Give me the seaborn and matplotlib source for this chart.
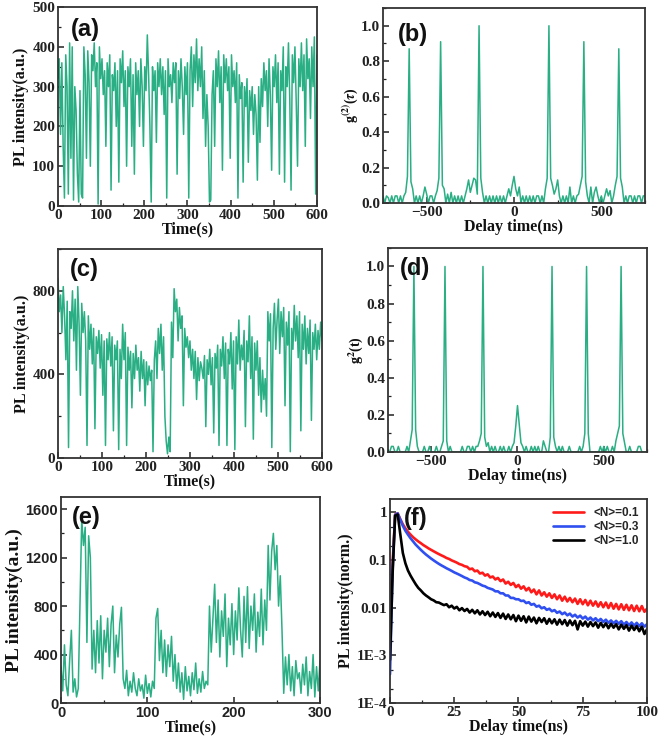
import numpy as np
import pandas as pd
import matplotlib
matplotlib.use("Agg")
import matplotlib.pyplot as plt
import seaborn as sns
from matplotlib.ticker import AutoMinorLocator, MultipleLocator, FixedLocator, FixedFormatter, NullFormatter, LogLocator

sns.set_theme(style="ticks")
plt.rcParams["font.family"] = ["Liberation Serif", "DejaVu Serif"]
plt.rcParams["font.weight"] = "bold"
plt.rcParams["axes.labelweight"] = "bold"
plt.rcParams["mathtext.fontset"] = "stix"

GREEN = "#2aae84"

# (a) PL trace, 3 s bins, 0..600 s
time_a = np.arange(0, 601, 3)
pl_a = [
    320, 370, 180, 360, 150, 20, 380, 300, 30, 410,
    120, 400, 15, 300, 240, 80, 10, 290, 30, 20,
    400, 330, 120, 390, 310, 100, 380, 340, 410, 300,
    360, 5, 400, 320, 370, 280, 340, 150, 360, 300,
    380, 40, 330, 290, 360, 200, 340, 60, 370, 310,
    390, 250, 340, 100, 350, 300, 370, 150, 330, 80,
    360, 280, 340, 200, 370, 300, 150, 350, 290, 430,
    330, 200, 10, 350, 290, 340, 160, 360, 300, 370,
    280, 350, 230, 340, 20, 370, 300, 330, 260, 360,
    310, 360, 80, 340, 270, 370, 300, 180, 350, 280,
    360, 20, 340, 400, 250, 380, 310, 420, 290, 370,
    300, 400, 220, 340, 150, 280, 200, 10, 15, 280,
    340, 150, 370, 300, 390, 260, 350, 90, 380, 310,
    370, 290, 350, 120, 380, 300, 340, 260, 360, 20,
    330, 270, 310, 60, 300, 250, 320, 110, 290, 240,
    300, 180, 280, 230, 65, 300, 160, 320, 250, 360,
    290, 340, 200, 370, 280, 90, 350, 300, 380, 260,
    360, 80, 340, 290, 400, 60, 350, 300, 410, 270,
    40, 380, 310, 400, 260, 100, 370, 300, 410, 290,
    380, 150, 420, 320, 370, 220, 400, 300, 425, 30,
    380,
]

# (c) PL trace, 3 s bins, 0..600 s
time_c = np.arange(0, 601, 3)
pl_c = [
    860, 700, 780, 600, 820, 680, 470, 750, 50, 700,
    620, 800, 560, 760, 420, 820, 640, 300, 740, 600,
    700, 560, 60, 680, 520, 640, 450, 620, 140, 580,
    500, 610, 430, 590, 300, 560, 60, 570, 470, 600,
    440, 580, 130, 540, 470, 560, 40, 520, 380, 640,
    470, 600, 60, 530, 420, 510, 240, 500, 380, 540,
    420, 480, 320, 510, 380, 470, 250, 460, 350, 440,
    370, 420, 30, 470, 560, 380, 620, 500, 640, 420,
    580, 200, 80, 20, 100, 30, 650, 480, 810, 700,
    760, 560, 720, 620, 680, 250, 620, 530, 580, 480,
    560, 420, 520, 380, 510, 280, 480, 370, 460, 430,
    380, 490, 150, 470, 400, 520, 350, 480, 120, 500,
    430, 540, 60, 520, 440, 580, 380, 550, 60, 520,
    450, 600, 330, 560, 40, 580, 450, 660, 420, 540,
    470, 610, 150, 560, 460, 680, 380, 580, 90, 550,
    420, 560, 300, 480, 220, 420, 280, 380, 200, 700,
    560, 690, 50, 620, 740, 520, 660, 760, 500, 700,
    580, 720, 250, 650, 540, 700, 30, 620, 520, 730,
    560, 680, 480, 700, 130, 640, 520, 680, 450, 620,
    500, 660, 180, 600, 520, 640, 470, 610, 520, 650,
    560,
]

# (e) PL trace, 2 s bins, 0..300 s
time_e = np.arange(0, 301, 2)
pl_e = [
    300, 100, 480, 150, 60, 350, 600, 90, 200, 50,
    120, 820, 1520, 1300, 1450, 500, 1380, 1200, 280, 600,
    250, 680, 330, 720, 200, 600, 420, 700, 300, 650,
    800, 250, 560, 380, 650, 790, 200, 120, 270, 60,
    180, 90, 250, 120, 60, 200, 100, 150, 40, 230,
    80, 160, 50, 180, 120, 700, 780, 350, 600, 250,
    520, 220, 480, 300, 550, 180, 400, 120, 330, 90,
    250, 30, 300, 100, 220, 60, 250, 110, 330, 80,
    200, 90, 260, 120, 180, 150, 800, 420, 700, 980,
    500, 850, 380, 760, 550, 900, 300, 700, 480, 820,
    400, 760, 520, 950, 600, 380, 880, 500, 960, 450,
    800, 600, 900, 420, 750, 550, 940, 480, 850, 600,
    1300, 850, 1250, 1400, 1100, 1300, 800, 1050, 600, 80,
    380, 150, 400, 100, 300, 60, 350, 200, 250, 80,
    320, 150, 380, 60, 260, 120, 400, 50, 300, 100,
    350,
]

# (b), (d) g2 histograms, 10 ns bins, -750..750 ns
delay_g2 = np.arange(-750, 751, 10)
g2_b = [
    0.04, 0.0, 0.04, 0.03, 0.0, 0.04, 0.0, 0.04, 0.04, 0.0,
    0.04, 0.0, 0.04, 0.06, 0.15, 0.87, 0.12, 0.08, 0.0, 0.04,
    0.0, 0.04, 0.0, 0.04, 0.09, 0.05, 0.0, 0.04, 0.04, 0.0,
    0.04, 0.07, 0.14, 0.91, 0.1, 0.08, 0.0, 0.05, 0.0, 0.06,
    0.0, 0.04, 0.0, 0.04, 0.0, 0.04, 0.0, 0.04, 0.08, 0.13,
    0.06, 0.1, 0.14, 0.13, 0.05, 1.0, 0.14, 0.06, 0.0, 0.04,
    0.0, 0.04, 0.0, 0.04, 0.0, 0.04, 0.0, 0.04, 0.0, 0.04,
    0.0, 0.04, 0.08, 0.04, 0.1, 0.15, 0.08, 0.04, 0.09, 0.0,
    0.04, 0.0, 0.04, 0.0, 0.04, 0.0, 0.04, 0.0, 0.04, 0.04,
    0.0, 0.04, 0.0, 0.08, 0.14, 1.0, 0.14, 0.1, 0.05, 0.08,
    0.13, 0.04, 0.0, 0.04, 0.0, 0.04, 0.0, 0.09, 0.0, 0.04,
    0.0, 0.04, 0.05, 0.1, 0.15, 0.91, 0.12, 0.04, 0.0, 0.09,
    0.0, 0.06, 0.09, 0.04, 0.0, 0.04, 0.0, 0.04, 0.08, 0.04,
    0.07, 0.0, 0.04, 0.1, 0.15, 0.87, 0.14, 0.09, 0.0, 0.04,
    0.0, 0.04, 0.04, 0.0, 0.04, 0.0, 0.04, 0.04, 0.0, 0.04,
    0.04,
]
g2_d = [
    0.0, 0.0, 0.03, 0.03, 0.0, 0.0, 0.03, 0.0, 0.0, 0.0,
    0.0, 0.03, 0.0, 0.06, 0.12, 1.0, 0.12, 0.03, 0.0, 0.0,
    0.0, 0.03, 0.0, 0.0, 0.03, 0.0, 0.0, 0.0, 0.03, 0.0,
    0.0, 0.03, 0.06, 1.0, 0.06, 0.0, 0.03, 0.0, 0.0, 0.0,
    0.0, 0.0, 0.0, 0.03, 0.0, 0.0, 0.03, 0.03, 0.0, 0.03,
    0.0, 0.03, 0.03, 0.06, 0.1, 1.0, 0.08, 0.03, 0.05, 0.0,
    0.03, 0.0, 0.03, 0.0, 0.0, 0.03, 0.0, 0.03, 0.0, 0.0,
    0.03, 0.0, 0.03, 0.05, 0.14, 0.25, 0.15, 0.05, 0.03, 0.0,
    0.03, 0.0, 0.0, 0.03, 0.0, 0.03, 0.0, 0.03, 0.0, 0.0,
    0.06, 0.03, 0.0, 0.0, 0.08, 1.0, 0.08, 0.03, 0.0, 0.03,
    0.0, 0.03, 0.0, 0.0, 0.0, 0.03, 0.0, 0.0, 0.0, 0.0,
    0.0, 0.03, 0.0, 0.03, 0.1, 1.0, 0.1, 0.0, 0.0, 0.0,
    0.0, 0.0, 0.0, 0.03, 0.0, 0.03, 0.0, 0.03, 0.0, 0.0,
    0.03, 0.0, 0.06, 0.1, 0.14, 1.0, 0.1, 0.05, 0.0, 0.0,
    0.03, 0.0, 0.0, 0.0, 0.0, 0.03, 0.03, 0.0, 0.0, 0.0,
    0.0,
]

# (f) normalized decay curves, 1 ns bins, 0..100 ns
delay_f = np.arange(0, 101, 1)
decay_01 = [
    0.004, 0.08, 0.9, 0.95, 0.72, 0.56, 0.46, 0.39, 0.34, 0.3,
    0.27, 0.245, 0.225, 0.205, 0.19, 0.175, 0.163, 0.152, 0.142, 0.133,
    0.125, 0.118, 0.11, 0.105, 0.098, 0.093, 0.088, 0.082, 0.079, 0.074,
    0.072, 0.064, 0.066, 0.058, 0.06, 0.052, 0.054, 0.047, 0.05, 0.043,
    0.045, 0.039, 0.042, 0.036, 0.039, 0.032, 0.035, 0.03, 0.033, 0.027,
    0.03, 0.025, 0.028, 0.023, 0.026, 0.021, 0.024, 0.019, 0.023, 0.018,
    0.021, 0.017, 0.02, 0.016, 0.019, 0.015, 0.018, 0.014, 0.017, 0.0135,
    0.016, 0.013, 0.0155, 0.012, 0.015, 0.0118, 0.0145, 0.0112, 0.014, 0.011,
    0.0135, 0.0105, 0.013, 0.0102, 0.0128, 0.0098, 0.0125, 0.0095, 0.012, 0.0092,
    0.0118, 0.009, 0.0115, 0.0088, 0.0112, 0.0085, 0.011, 0.0084, 0.0108, 0.0082,
    0.0095,
]
decay_03 = [
    0.0004, 0.06, 0.88, 0.95, 0.7, 0.52, 0.41, 0.34, 0.285, 0.245,
    0.21, 0.185, 0.163, 0.145, 0.13, 0.118, 0.107, 0.098, 0.09, 0.083,
    0.077, 0.072, 0.067, 0.063, 0.059, 0.055, 0.052, 0.049, 0.046, 0.043,
    0.041, 0.038, 0.037, 0.034, 0.033, 0.031, 0.029, 0.028, 0.026, 0.025,
    0.024, 0.022, 0.022, 0.02, 0.02, 0.018, 0.018, 0.016, 0.016, 0.015,
    0.015, 0.0138, 0.014, 0.0125, 0.013, 0.0115, 0.012, 0.0105, 0.011, 0.0097,
    0.0102, 0.009, 0.0095, 0.0084, 0.0089, 0.0078, 0.0083, 0.0073, 0.0079, 0.0069,
    0.0075, 0.0065, 0.0071, 0.0062, 0.0068, 0.0059, 0.0065, 0.0056, 0.0062, 0.0054,
    0.006, 0.0052, 0.0058, 0.005, 0.0056, 0.0048, 0.0054, 0.0047, 0.0053, 0.0046,
    0.0052, 0.0044, 0.005, 0.0043, 0.0049, 0.0042, 0.0048, 0.0041, 0.0047, 0.004,
    0.0045,
]
decay_10 = [
    0.0008, 0.05, 0.85, 0.9, 0.35, 0.14, 0.085, 0.06, 0.047, 0.038,
    0.031, 0.026, 0.023, 0.02, 0.018, 0.0165, 0.015, 0.0142, 0.013, 0.0128,
    0.012, 0.0113, 0.0118, 0.0102, 0.011, 0.0096, 0.0104, 0.0088, 0.0098, 0.0085,
    0.0094, 0.0079, 0.009, 0.0076, 0.0088, 0.0072, 0.0084, 0.007, 0.0082, 0.0066,
    0.0079, 0.0064, 0.0077, 0.0061, 0.0075, 0.0058, 0.0072, 0.0057, 0.007, 0.0052,
    0.0068, 0.0053, 0.0066, 0.0049, 0.0065, 0.0051, 0.0062, 0.0047, 0.0061, 0.005,
    0.006, 0.0046, 0.0058, 0.0047, 0.0057, 0.0044, 0.0056, 0.0045, 0.0055, 0.0042,
    0.0054, 0.0043, 0.0053, 0.0035, 0.0052, 0.0042, 0.0051, 0.004, 0.005, 0.0041,
    0.0049, 0.0038, 0.0048, 0.0039, 0.0047, 0.0037, 0.0046, 0.0038, 0.0045, 0.0035,
    0.0044, 0.0036, 0.0043, 0.0033, 0.0042, 0.0034, 0.0041, 0.0032, 0.004, 0.0028,
    0.0035,
]
decay_labels = ["<N>=0.1", "<N>=0.3", "<N>=1.0"]
decay_colors = ["#ff1a1a", "#2f4ff0", "#000000"]

fig = plt.figure(figsize=(6.61, 7.43), dpi=100)
ax_a = fig.add_axes([0.0877, 0.7227, 0.3918, 0.2678])
ax_b = fig.add_axes([0.5794, 0.7268, 0.3964, 0.2624])
ax_c = fig.add_axes([0.0877, 0.3836, 0.3994, 0.2813])
ax_d = fig.add_axes([0.5870, 0.3917, 0.3918, 0.2746])
ax_e = fig.add_axes([0.0923, 0.0538, 0.3918, 0.2773])
ax_f = fig.add_axes([0.5900, 0.0538, 0.3888, 0.2746])


def style_axis(ax, tick_font="Liberation Serif", tick_size=11):
    for sp in ax.spines.values():
        sp.set_color("#333333")
        sp.set_linewidth(1.3)
    ax.tick_params(which="both", direction="in", top=False, right=False,
                   colors="#222222", labelsize=tick_size, pad=2)
    ax.tick_params(which="major", length=4, width=1.1)
    ax.tick_params(which="minor", length=2.5, width=0.9)
    for lab in ax.get_xticklabels() + ax.get_yticklabels():
        lab.set_family(tick_font)
        lab.set_weight("bold")
    ax.xaxis.label.set_color("#111111")
    ax.yaxis.label.set_color("#111111")


def panel_label(ax, text, x, y):
    ax.text(x, y, text, transform=ax.transAxes, ha="left", va="top",
            fontsize=17, fontweight="bold", family="Liberation Sans", color="#111111")


# (a)
sns.lineplot(x=time_a, y=pl_a, ax=ax_a, color=GREEN, linewidth=1.1, estimator=None, sort=False)
ax_a.set_xlim(0, 600)
ax_a.set_ylim(0, 500)
ax_a.xaxis.set_major_locator(MultipleLocator(100))
ax_a.xaxis.set_minor_locator(AutoMinorLocator(2))
ax_a.yaxis.set_major_locator(MultipleLocator(100))
ax_a.yaxis.set_minor_locator(AutoMinorLocator(2))
ax_a.set_xlabel("Time(s)", fontsize=11.5, labelpad=0)
ax_a.set_ylabel("PL intensity(a.u.)", fontsize=11.5, labelpad=2)
style_axis(ax_a)
panel_label(ax_a, "(a)", 0.05, 0.945)

# (b)
sns.lineplot(x=delay_g2, y=g2_b, ax=ax_b, color=GREEN, linewidth=1.1, estimator=None, sort=False)
ax_b.set_xlim(-750, 750)
ax_b.set_ylim(0, 1.1)
ax_b.xaxis.set_major_locator(MultipleLocator(500))
ax_b.xaxis.set_minor_locator(AutoMinorLocator(2))
ax_b.yaxis.set_major_locator(MultipleLocator(0.2))
ax_b.yaxis.set_minor_locator(AutoMinorLocator(2))
ax_b.yaxis.set_major_formatter(matplotlib.ticker.FormatStrFormatter("%.1f"))
ax_b.set_xlabel("Delay time(ns)", fontsize=11.5, labelpad=0)
ax_b.set_ylabel(r"g$^{(2)}$($\tau$)", fontsize=10, labelpad=1)
style_axis(ax_b)
panel_label(ax_b, "(b)", 0.055, 0.925)

# (c)
sns.lineplot(x=time_c, y=pl_c, ax=ax_c, color=GREEN, linewidth=1.1, estimator=None, sort=False)
ax_c.set_xlim(0, 600)
ax_c.set_ylim(0, 1000)
ax_c.xaxis.set_major_locator(MultipleLocator(100))
ax_c.xaxis.set_minor_locator(AutoMinorLocator(2))
ax_c.yaxis.set_major_locator(MultipleLocator(400))
ax_c.yaxis.set_minor_locator(AutoMinorLocator(2))
ax_c.set_xlabel("Time(s)", fontsize=11.5, labelpad=0)
ax_c.set_ylabel("PL intensity(a.u.)", fontsize=11.5, labelpad=2)
style_axis(ax_c)
panel_label(ax_c, "(c)", 0.045, 0.955)

# (d)
sns.lineplot(x=delay_g2, y=g2_d, ax=ax_d, color=GREEN, linewidth=1.1, estimator=None, sort=False)
ax_d.set_xlim(-750, 750)
ax_d.set_ylim(0, 1.1)
ax_d.xaxis.set_major_locator(MultipleLocator(500))
ax_d.xaxis.set_minor_locator(AutoMinorLocator(2))
ax_d.yaxis.set_major_locator(MultipleLocator(0.2))
ax_d.yaxis.set_minor_locator(AutoMinorLocator(2))
ax_d.yaxis.set_major_formatter(matplotlib.ticker.FormatStrFormatter("%.1f"))
ax_d.set_xlabel("Delay time(ns)", fontsize=11.5, labelpad=0)
ax_d.set_ylabel(r"g$^{2}$(t)", fontsize=10, labelpad=1)
style_axis(ax_d)
panel_label(ax_d, "(d)", 0.045, 0.955)

# (e)
sns.lineplot(x=time_e, y=pl_e, ax=ax_e, color=GREEN, linewidth=1.1, estimator=None, sort=False)
ax_e.set_xlim(0, 300)
ax_e.set_ylim(0, 1700)
ax_e.xaxis.set_major_locator(MultipleLocator(100))
ax_e.xaxis.set_minor_locator(AutoMinorLocator(2))
ax_e.yaxis.set_major_locator(MultipleLocator(400))
ax_e.yaxis.set_minor_locator(AutoMinorLocator(2))
ax_e.set_xlabel("Time(s)", fontsize=11.5, labelpad=0)
ax_e.set_ylabel("PL intensity(a.u.)", fontsize=14, labelpad=2)
style_axis(ax_e, tick_font="Liberation Sans", tick_size=10.5)
panel_label(ax_e, "(e)", 0.042, 0.955)

# (f)
for vals, lab, col in zip([decay_01, decay_03, decay_10], decay_labels, decay_colors):
    sns.lineplot(x=delay_f, y=vals, ax=ax_f, color=col, linewidth=1.9,
                 estimator=None, sort=False, label=lab)
ax_f.set_yscale("log")
ax_f.set_xlim(0, 100)
ax_f.set_ylim(1e-4, 1.9)
ax_f.xaxis.set_major_locator(MultipleLocator(25))
ax_f.xaxis.set_minor_locator(AutoMinorLocator(2))
ax_f.yaxis.set_major_locator(FixedLocator([1e-4, 1e-3, 1e-2, 1e-1, 1]))
ax_f.yaxis.set_major_formatter(FixedFormatter(["1E-4", "1E-3", "0.01", "0.1", "1"]))
ax_f.yaxis.set_minor_locator(LogLocator(base=10, subs=(2, 5)))
ax_f.yaxis.set_minor_formatter(NullFormatter())
ax_f.set_xlabel("Delay time(ns)", fontsize=11.5, labelpad=0)
ax_f.set_ylabel("PL intensity(norm.)", fontsize=11.5, labelpad=2)
ax_f.legend(loc="upper right", frameon=False, handlelength=2.6,
            labelspacing=0.15, borderaxespad=0.3,
            prop={"family": "Liberation Sans", "size": 8.5, "weight": "bold"})
style_axis(ax_f)
panel_label(ax_f, "(f)", 0.054, 0.96)

fig.savefig("out.png", dpi=100)
